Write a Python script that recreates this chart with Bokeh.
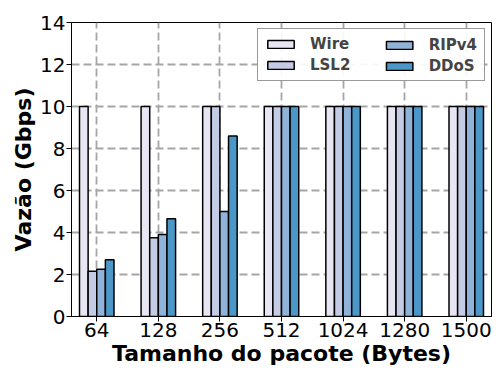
from bokeh.plotting import figure
from bokeh.models import ColumnDataSource, Range1d, FixedTicker, Legend, LegendItem
from bokeh.embed import file_html
from bokeh.resources import INLINE

categories = ["64", "128", "256", "512", "1024", "1280", "1500"]
series_names = ["Wire", "LSL2", "RIPv4", "DDoS"]
wire = [10, 10, 10, 10, 10, 10, 10]
lsl2 = [2.15, 3.75, 10, 10, 10, 10, 10]
ripv4 = [2.25, 3.9, 5.0, 10, 10, 10, 10]
ddos = [2.7, 4.65, 8.6, 10, 10, 10, 10]
y_ticks = [0, 2, 4, 6, 8, 10, 12, 14]

colors = ["#e8e6f2", "#c4cbe4", "#8fb3d9", "#4b98c8"]
series = [wire, lsl2, ripv4, ddos]
bw = 0.14

p = figure(width=492, height=368, output_backend="svg", toolbar_location=None,
           x_range=Range1d(-0.41, 6.41), y_range=Range1d(0, 14),
           min_border_left=71, min_border_right=1, min_border_top=22, min_border_bottom=45)

font = "DejaVu Sans"
items = []
idx = list(range(len(categories)))
for k, (name, vals, col) in enumerate(zip(series_names, series, colors)):
    off = (k - 1.5) * bw
    src = ColumnDataSource(dict(x=[i + off for i in idx], top=vals))
    r = p.vbar(x="x", top="top", width=bw, bottom=0, source=src,
               fill_color=col, line_color="black", line_width=1.5)
    items.append(LegendItem(label=name, renderers=[r]))

p.xaxis.ticker = FixedTicker(ticks=idx)
p.xaxis.major_label_overrides = {i: c for i, c in zip(idx, categories)}
p.yaxis.ticker = FixedTicker(ticks=y_ticks)

p.xaxis.axis_label = "Tamanho do pacote (Bytes)"
p.yaxis.axis_label = "Vazão (Gbps)"
for ax in (p.xaxis[0], p.yaxis[0]):
    ax.axis_label_text_font = font
    ax.axis_label_text_font_style = "bold"
    ax.axis_label_text_font_size = "22px"
    ax.axis_label_text_color = "black"
    ax.major_label_text_font = font
    ax.major_label_text_font_size = "20px"
    ax.major_label_text_color = "black"
    ax.axis_line_color = "black"
    ax.major_tick_line_color = "black"
    ax.major_tick_out = 5
    ax.major_tick_in = 0
    ax.minor_tick_line_color = None
    ax.axis_label_standoff = 1
    ax.major_label_standoff = 1

p.outline_line_color = "black"
p.outline_line_width = 1
for g in (p.xgrid[0], p.ygrid[0]):
    g.grid_line_color = "#a6a6a6"
    g.grid_line_width = 1.8
    g.grid_line_dash = "8 4"


def make_legend(its, label_width, bordered, margin):
    lg = Legend(items=its, location="top_right")
    lg.label_text_font = font
    lg.label_text_font_style = "bold"
    lg.label_text_font_size = "15px"
    lg.glyph_width = 33
    lg.glyph_height = 10
    lg.label_standoff = 13
    lg.spacing = 3
    lg.padding = 6
    lg.margin = margin
    lg.label_height = 15
    if label_width:
        lg.label_width = label_width
    if bordered:
        lg.border_line_color = "#333333"
        lg.border_line_width = 1
        lg.background_fill_color = "white"
        lg.background_fill_alpha = 0.9
    else:
        lg.border_line_color = None
        lg.background_fill_alpha = 0
    return lg


# one framed box holding two columns of entries
leg1 = make_legend(items[:2], 168, True, 6)
leg2 = make_legend(items[2:], None, False, 14)
p.add_layout(leg1)
p.add_layout(leg2)

open("out.html", "w").write(file_html(p, INLINE))
